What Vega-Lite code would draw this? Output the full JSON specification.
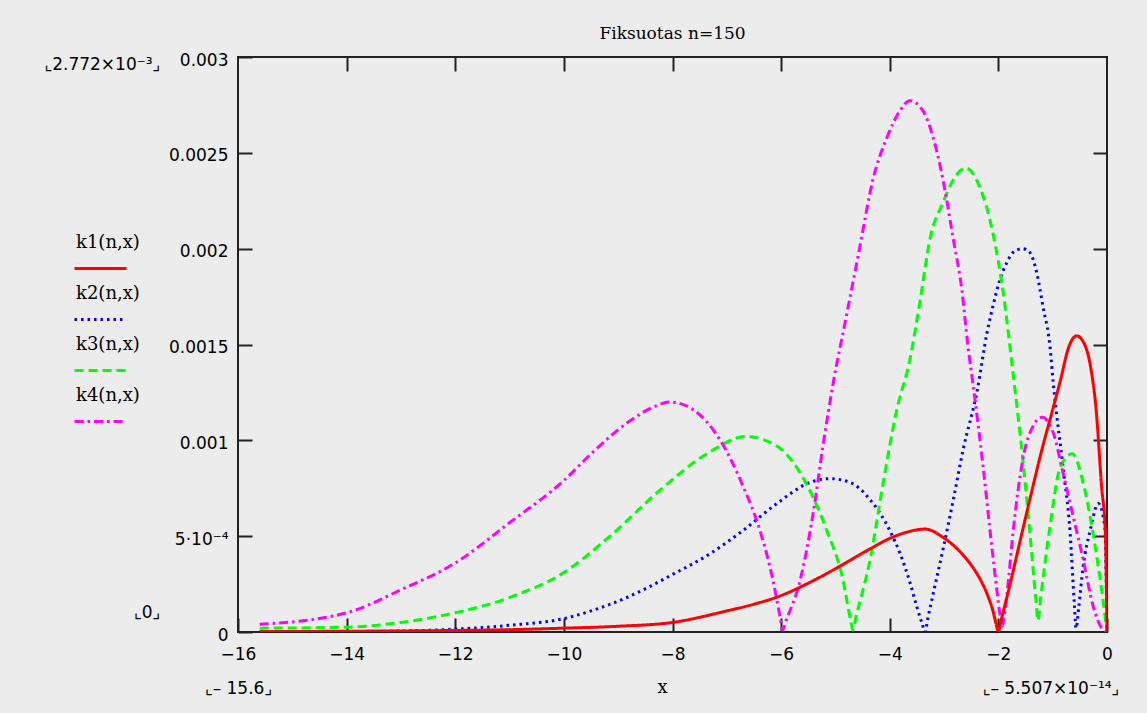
{
  "$schema": "https://vega.github.io/schema/vega-lite/v6.json",
  "autosize": "none",
  "width": 869,
  "height": 575,
  "padding": {"left": 238, "top": 57, "right": 40, "bottom": 81},
  "background": "#ececec",
  "title": {"text": "Fiksuotas n=150", "font": "DejaVu Serif", "fontSize": 17, "fontWeight": "normal", "color": "#000", "offset": 8, "anchor": "middle"},
  "config": {
    "view": {"stroke": "#222", "strokeWidth": 2},
    "axis": {"grid": false, "domain": false, "labelColor": "#000", "tickColor": "#222", "tickWidth": 2, "labelFont": "DejaVu Sans", "labelFontSize": 17, "labelFlush": false, "labelOverlap": false}
  },
  "data": {"values": [
    {"s":"k2(n,x)","x":-15.6,"y":0.000001},{"s":"k2(n,x)","x":-14,"y":0.000002},{"s":"k2(n,x)","x":-13,"y":0.000005},{"s":"k2(n,x)","x":-12,"y":0.000015},{"s":"k2(n,x)","x":-11,"y":0.000035},{"s":"k2(n,x)","x":-10,"y":0.00007},{"s":"k2(n,x)","x":-9.5,"y":0.00011},{"s":"k2(n,x)","x":-8.84,"y":0.00018},{"s":"k2(n,x)","x":-8,"y":0.0003},{"s":"k2(n,x)","x":-7.3,"y":0.00041},{"s":"k2(n,x)","x":-6.7,"y":0.00053},{"s":"k2(n,x)","x":-6.08,"y":0.00067},{"s":"k2(n,x)","x":-5.47,"y":0.00078},{"s":"k2(n,x)","x":-5.1,"y":0.0008},{"s":"k2(n,x)","x":-4.73,"y":0.00078},{"s":"k2(n,x)","x":-4.36,"y":0.00069},{"s":"k2(n,x)","x":-4,"y":0.00053},{"s":"k2(n,x)","x":-3.81,"y":0.00041},{"s":"k2(n,x)","x":-3.63,"y":0.00026},{"s":"k2(n,x)","x":-3.5,"y":0.00013},{"s":"k2(n,x)","x":-3.4,"y":0.00004},{"s":"k2(n,x)","x":-3.35,"y":0},{"s":"k2(n,x)","x":-3.3,"y":0.00007},{"s":"k2(n,x)","x":-3.2,"y":0.0002},{"s":"k2(n,x)","x":-3.02,"y":0.00043},{"s":"k2(n,x)","x":-2.83,"y":0.00069},{"s":"k2(n,x)","x":-2.65,"y":0.00095},{"s":"k2(n,x)","x":-2.39,"y":0.00126},{"s":"k2(n,x)","x":-2.21,"y":0.00156},{"s":"k2(n,x)","x":-2.1,"y":0.0017},{"s":"k2(n,x)","x":-1.97,"y":0.00184},{"s":"k2(n,x)","x":-1.84,"y":0.00193},{"s":"k2(n,x)","x":-1.73,"y":0.00198},{"s":"k2(n,x)","x":-1.56,"y":0.002},{"s":"k2(n,x)","x":-1.42,"y":0.00198},{"s":"k2(n,x)","x":-1.29,"y":0.00187},{"s":"k2(n,x)","x":-1.18,"y":0.0017},{"s":"k2(n,x)","x":-1.05,"y":0.00149},{"s":"k2(n,x)","x":-0.99,"y":0.0013},{"s":"k2(n,x)","x":-0.81,"y":0.00086},{"s":"k2(n,x)","x":-0.68,"y":0.00052},{"s":"k2(n,x)","x":-0.6,"y":0.00014},{"s":"k2(n,x)","x":-0.57,"y":0.00002},{"s":"k2(n,x)","x":-0.52,"y":0.00013},{"s":"k2(n,x)","x":-0.44,"y":0.00034},{"s":"k2(n,x)","x":-0.31,"y":0.00053},{"s":"k2(n,x)","x":-0.16,"y":0.00067},{"s":"k2(n,x)","x":-0.04,"y":0.00055},{"s":"k2(n,x)","x":0,"y":0},
    {"s":"k3(n,x)","x":-15.6,"y":0.00002},{"s":"k3(n,x)","x":-14,"y":0.000025},{"s":"k3(n,x)","x":-13,"y":0.00005},{"s":"k3(n,x)","x":-12,"y":0.0001},{"s":"k3(n,x)","x":-11,"y":0.00018},{"s":"k3(n,x)","x":-10,"y":0.00031},{"s":"k3(n,x)","x":-9.15,"y":0.0005},{"s":"k3(n,x)","x":-8.23,"y":0.00074},{"s":"k3(n,x)","x":-7.31,"y":0.00094},{"s":"k3(n,x)","x":-6.65,"y":0.00102},{"s":"k3(n,x)","x":-6.08,"y":0.00097},{"s":"k3(n,x)","x":-5.65,"y":0.00083},{"s":"k3(n,x)","x":-5.16,"y":0.00053},{"s":"k3(n,x)","x":-4.86,"y":0.00027},{"s":"k3(n,x)","x":-4.72,"y":0.00006},{"s":"k3(n,x)","x":-4.68,"y":0.00001},{"s":"k3(n,x)","x":-4.62,"y":0.00008},{"s":"k3(n,x)","x":-4.36,"y":0.00038},{"s":"k3(n,x)","x":-4.12,"y":0.00078},{"s":"k3(n,x)","x":-3.87,"y":0.00116},{"s":"k3(n,x)","x":-3.63,"y":0.00142},{"s":"k3(n,x)","x":-3.44,"y":0.00173},{"s":"k3(n,x)","x":-3.26,"y":0.00205},{"s":"k3(n,x)","x":-3.02,"y":0.00224},{"s":"k3(n,x)","x":-2.83,"y":0.00236},{"s":"k3(n,x)","x":-2.6,"y":0.00242},{"s":"k3(n,x)","x":-2.34,"y":0.00232},{"s":"k3(n,x)","x":-2.1,"y":0.00208},{"s":"k3(n,x)","x":-1.91,"y":0.00177},{"s":"k3(n,x)","x":-1.73,"y":0.00135},{"s":"k3(n,x)","x":-1.55,"y":0.0009},{"s":"k3(n,x)","x":-1.42,"y":0.00052},{"s":"k3(n,x)","x":-1.31,"y":0.00017},{"s":"k3(n,x)","x":-1.27,"y":0.00006},{"s":"k3(n,x)","x":-1.22,"y":0.00018},{"s":"k3(n,x)","x":-1.05,"y":0.00055},{"s":"k3(n,x)","x":-0.86,"y":0.00086},{"s":"k3(n,x)","x":-0.64,"y":0.00093},{"s":"k3(n,x)","x":-0.44,"y":0.00078},{"s":"k3(n,x)","x":-0.26,"y":0.00052},{"s":"k3(n,x)","x":-0.09,"y":0.0002},{"s":"k3(n,x)","x":0,"y":0},
    {"s":"k4(n,x)","x":-15.6,"y":0.00004},{"s":"k4(n,x)","x":-14,"y":0.0001},{"s":"k4(n,x)","x":-13,"y":0.00022},{"s":"k4(n,x)","x":-12,"y":0.00036},{"s":"k4(n,x)","x":-11,"y":0.00057},{"s":"k4(n,x)","x":-10,"y":0.00079},{"s":"k4(n,x)","x":-9.46,"y":0.00094},{"s":"k4(n,x)","x":-8.84,"y":0.00109},{"s":"k4(n,x)","x":-8.3,"y":0.00118},{"s":"k4(n,x)","x":-8.05,"y":0.0012},{"s":"k4(n,x)","x":-7.62,"y":0.00116},{"s":"k4(n,x)","x":-7.12,"y":0.001},{"s":"k4(n,x)","x":-6.7,"y":0.00076},{"s":"k4(n,x)","x":-6.39,"y":0.00053},{"s":"k4(n,x)","x":-6.15,"y":0.00027},{"s":"k4(n,x)","x":-6.02,"y":0.00008},{"s":"k4(n,x)","x":-5.97,"y":0.00001},{"s":"k4(n,x)","x":-5.92,"y":0.00005},{"s":"k4(n,x)","x":-5.65,"y":0.00027},{"s":"k4(n,x)","x":-5.41,"y":0.00062},{"s":"k4(n,x)","x":-5.23,"y":0.00097},{"s":"k4(n,x)","x":-5.04,"y":0.0013},{"s":"k4(n,x)","x":-4.79,"y":0.00166},{"s":"k4(n,x)","x":-4.55,"y":0.00201},{"s":"k4(n,x)","x":-4.31,"y":0.00236},{"s":"k4(n,x)","x":-4.05,"y":0.00258},{"s":"k4(n,x)","x":-3.81,"y":0.00272},{"s":"k4(n,x)","x":-3.63,"y":0.002772},{"s":"k4(n,x)","x":-3.39,"y":0.00272},{"s":"k4(n,x)","x":-3.2,"y":0.00258},{"s":"k4(n,x)","x":-3.02,"y":0.00236},{"s":"k4(n,x)","x":-2.83,"y":0.00205},{"s":"k4(n,x)","x":-2.67,"y":0.00178},{"s":"k4(n,x)","x":-2.56,"y":0.00149},{"s":"k4(n,x)","x":-2.47,"y":0.0013},{"s":"k4(n,x)","x":-2.28,"y":0.00086},{"s":"k4(n,x)","x":-2.15,"y":0.00052},{"s":"k4(n,x)","x":-2.02,"y":0.0002},{"s":"k4(n,x)","x":-1.97,"y":0.00009},{"s":"k4(n,x)","x":-1.93,"y":0.00003},{"s":"k4(n,x)","x":-1.89,"y":0.00009},{"s":"k4(n,x)","x":-1.84,"y":0.0002},{"s":"k4(n,x)","x":-1.73,"y":0.00052},{"s":"k4(n,x)","x":-1.55,"y":0.0009},{"s":"k4(n,x)","x":-1.35,"y":0.00108},{"s":"k4(n,x)","x":-1.2,"y":0.00112},{"s":"k4(n,x)","x":-0.99,"y":0.00104},{"s":"k4(n,x)","x":-0.81,"y":0.00083},{"s":"k4(n,x)","x":-0.62,"y":0.0006},{"s":"k4(n,x)","x":-0.44,"y":0.00038},{"s":"k4(n,x)","x":-0.26,"y":0.00014},{"s":"k4(n,x)","x":-0.07,"y":0.00001},{"s":"k4(n,x)","x":0,"y":0},
    {"s":"k1(n,x)","x":-15.6,"y":0.000002},{"s":"k1(n,x)","x":-14,"y":0.000004},{"s":"k1(n,x)","x":-12,"y":0.000008},{"s":"k1(n,x)","x":-11,"y":0.000012},{"s":"k1(n,x)","x":-10,"y":0.00002},{"s":"k1(n,x)","x":-9,"y":0.00003},{"s":"k1(n,x)","x":-8,"y":0.00005},{"s":"k1(n,x)","x":-7,"y":0.00011},{"s":"k1(n,x)","x":-6.5,"y":0.000145},{"s":"k1(n,x)","x":-6,"y":0.00019},{"s":"k1(n,x)","x":-5.5,"y":0.000255},{"s":"k1(n,x)","x":-5,"y":0.00033},{"s":"k1(n,x)","x":-4.73,"y":0.000374},{"s":"k1(n,x)","x":-4.36,"y":0.000434},{"s":"k1(n,x)","x":-4,"y":0.000488},{"s":"k1(n,x)","x":-3.63,"y":0.000525},{"s":"k1(n,x)","x":-3.35,"y":0.000537},{"s":"k1(n,x)","x":-3,"y":0.00049},{"s":"k1(n,x)","x":-2.8,"y":0.000445},{"s":"k1(n,x)","x":-2.6,"y":0.000385},{"s":"k1(n,x)","x":-2.4,"y":0.000307},{"s":"k1(n,x)","x":-2.2,"y":0.000193},{"s":"k1(n,x)","x":-2.1,"y":0.00011},{"s":"k1(n,x)","x":-2.04,"y":0.00004},{"s":"k1(n,x)","x":-2,"y":0},{"s":"k1(n,x)","x":-1.95,"y":0.00006},{"s":"k1(n,x)","x":-1.8,"y":0.00023},{"s":"k1(n,x)","x":-1.6,"y":0.000475},{"s":"k1(n,x)","x":-1.4,"y":0.000716},{"s":"k1(n,x)","x":-1.2,"y":0.00095},{"s":"k1(n,x)","x":-1,"y":0.00116},{"s":"k1(n,x)","x":-0.86,"y":0.00131},{"s":"k1(n,x)","x":-0.7,"y":0.00149},{"s":"k1(n,x)","x":-0.6,"y":0.00154},{"s":"k1(n,x)","x":-0.56,"y":0.001545},{"s":"k1(n,x)","x":-0.45,"y":0.00152},{"s":"k1(n,x)","x":-0.3,"y":0.00138},{"s":"k1(n,x)","x":-0.2,"y":0.00116},{"s":"k1(n,x)","x":-0.1,"y":0.00076},{"s":"k1(n,x)","x":-0.03,"y":0.00052},{"s":"k1(n,x)","x":0,"y":0}
  ]},
  "layer": [
    {
      "mark": {"type": "line", "strokeWidth": 3, "clip": true, "interpolate": "monotone"},
      "encoding": {
        "x": {"field": "x", "type": "quantitative", "scale": {"domain": [-16, 0], "nice": false, "zero": false},
          "axis": {"values": [-16, -14, -12, -10, -8, -6, -4, -2, 0], "tickSize": -14, "labelPadding": 28, "title": "x", "titleFont": "DejaVu Serif", "titleFontSize": 18, "titleFontWeight": "normal", "titleColor": "#000", "titlePadding": 16, "titleX": 424}},
        "y": {"field": "y", "type": "quantitative", "scale": {"domain": [0, 0.003], "nice": false, "zero": false},
          "axis": {"values": [0, 0.0005, 0.001, 0.0015, 0.002, 0.0025, 0.003], "tickSize": -14, "labelPadding": 24, "labelOffset": 3, "title": null,
            "labelExpr": "datum.value == 0.0005 ? '5·10⁻⁴' : datum.value == 0 ? '0' : format(datum.value, '')"}},
        "color": {"field": "s", "type": "nominal",
          "scale": {"domain": ["k1(n,x)", "k2(n,x)", "k3(n,x)", "k4(n,x)"], "range": ["#ff0000", "#0000ff", "#00ff00", "#ff00ff"]},
          "legend": {"title": null, "orient": "none", "legendX": -165, "legendY": 184, "symbolType": "stroke", "symbolSize": 2704, "symbolStrokeWidth": 3, "labelFont": "DejaVu Serif", "labelFontSize": 18, "labelColor": "#000", "labelOffset": -52, "labelBaseline": "middle", "rowPadding": 9,
            "encode": {"labels": {"update": {"dy": {"value": -26}}}}}},
        "strokeDash": {"field": "s", "type": "nominal",
          "scale": {"domain": ["k1(n,x)", "k2(n,x)", "k3(n,x)", "k4(n,x)"], "range": [[1, 0], [2.5, 4], [9, 5], [9, 4, 2.5, 4]]},
          "legend": {"title": null, "orient": "none", "legendX": -165, "legendY": 184, "symbolType": "stroke", "symbolSize": 2704, "symbolStrokeWidth": 3, "labelFont": "DejaVu Serif", "labelFontSize": 18, "labelColor": "#000", "labelOffset": -52, "labelBaseline": "middle", "rowPadding": 9,
            "encode": {"labels": {"update": {"dy": {"value": -26}}}}}}
      }
    },
    {
      "mark": {"type": "point", "opacity": 0},
      "encoding": {
        "x": {"field": "x", "type": "quantitative",
          "axis": {"orient": "bottom", "values": [-16, 0], "ticks": false, "title": null, "labelPadding": 48, "labelFontSize": 17,
            "labelExpr": "datum.value == 0 ? '⌞– 5.507×10⁻¹⁴⌟' : '⌞– 15.6⌟'",
            "labelAlign": {"condition": {"test": "datum.value == 0", "value": "right"}, "value": "center"},
            "labelOffset": {"condition": {"test": "datum.value == 0", "value": 12}, "value": 0}}},
        "y": {"field": "y", "type": "quantitative",
          "axis": {"orient": "left", "values": [0.003, 0], "ticks": false, "title": null, "labelPadding": 78, "labelFontSize": 17,
            "labelExpr": "datum.value == 0 ? '⌞0⌟' : '⌞2.772×10⁻³⌟'",
            "labelOffset": {"condition": {"test": "datum.value == 0", "value": -20}, "value": 7}}}
      }
    },
    {
      "mark": {"type": "point", "opacity": 0},
      "encoding": {
        "x": {"field": "x", "type": "quantitative",
          "axis": {"orient": "top", "values": [-14, -12, -10, -8, -6, -4, -2], "labels": false, "tickSize": -14, "title": null}},
        "y": {"field": "y", "type": "quantitative",
          "axis": {"orient": "right", "values": [0.0005, 0.001, 0.0015, 0.002, 0.0025], "labels": false, "tickSize": -14, "title": null}}
      }
    }
  ],
  "resolve": {"axis": {"x": "independent", "y": "independent"}}
}
